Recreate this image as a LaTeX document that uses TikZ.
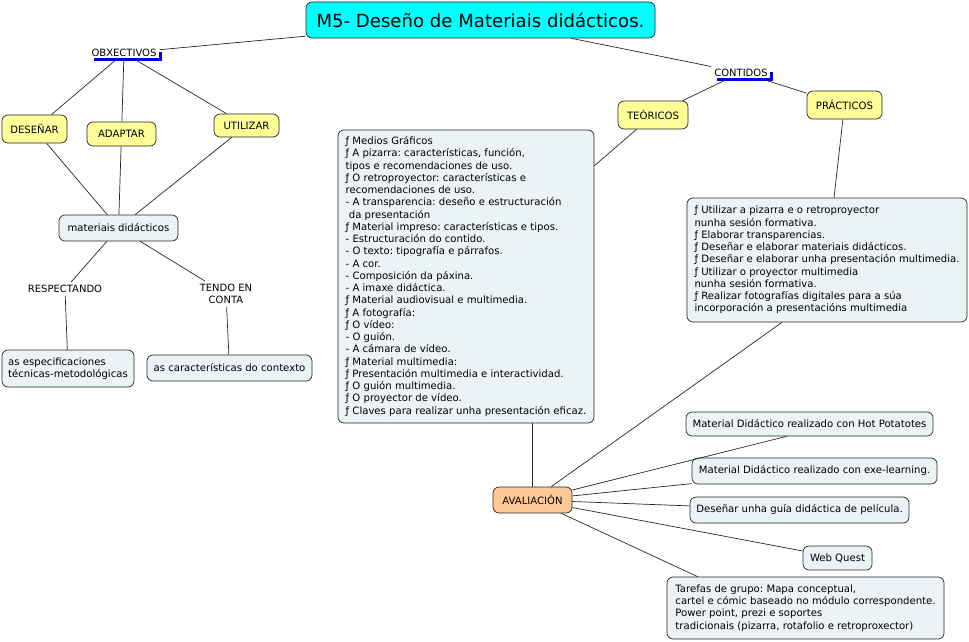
\documentclass[tikz,border=0pt]{standalone}
\usepackage{fontspec}
\setmainfont{DejaVu Sans}
\usetikzlibrary{calc}
\definecolor{ylw}{RGB}{255,255,153}
\definecolor{pale}{RGB}{235,243,245}
\definecolor{org}{RGB}{255,200,150}
\definecolor{cyn}{RGB}{0,255,255}
\definecolor{barblue}{RGB}{0,0,230}
\frenchspacing
\begin{document}
\frenchspacing
\begin{tikzpicture}[x=1pt,y=-1pt,
  box/.style={draw=black!85, rounded corners=6pt, line width=0.7pt, inner sep=0pt, font=\fontsize{10.1}{12.25}\selectfont},
  ybox/.style={box, fill=ylw},
  pbox/.style={box, fill=pale},
  lbl/.style={inner sep=3pt, font=\fontsize{10}{12}\selectfont, align=center},
  conn/.style={draw=black!85, line width=0.7pt},
  bar/.style={draw=barblue, line width=3.3pt, line join=miter}]
\useasboundingbox (0,0) rectangle (969,642);

% nodes
\node[box, fill=cyn, minimum width=349, minimum height=36, font=\fontsize{18.1}{20}\selectfont] (title) at (480.5,20) {M5- Deseño de Materiais didácticos.};

\node[lbl] (obx) at (124,53) {OBXECTIVOS};
\node[lbl] (cont) at (741,72.5) {CONTIDOS};

\node[ybox, minimum width=65, minimum height=28] (desenar) at (34.5,129) {DESEÑAR};
\node[ybox, minimum width=69, minimum height=24] (adaptar) at (121.5,134) {ADAPTAR};
\node[ybox, minimum width=65, minimum height=23] (utilizar) at (246.5,125.5) {UTILIZAR};

\node[pbox, minimum width=119, minimum height=26] (mat) at (118.5,228) {materiais didácticos};
\node[lbl] (resp) at (65,289) {RESPECTANDO};
\node[lbl] (tendo) at (226,294) {TENDO EN\\CONTA};
\node[pbox, minimum width=132, minimum height=37, align=left] (espec) at (68,368.5) {as especificaciones\\técnicas-metodológicas};
\node[pbox, minimum width=165, minimum height=26] (carac) at (229.5,368) {as características do contexto};

\node[ybox, minimum width=70, minimum height=28] (teor) at (653,115) {TEÓRICOS};
\node[ybox, minimum width=75, minimum height=28] (prac) at (844.5,105) {PRÁCTICOS};

\node[pbox, minimum width=256, minimum height=293, align=left] (big) at (466,276.5) {%
ƒ Medios Gráficos\\
ƒ A pizarra: características, función,\\
tipos e recomendaciones de uso.\\
ƒ O retroproyector: características e\\
recomendaciones de uso.\\
- A transparencia: deseño e estructuración\\
\ da presentación\\
ƒ Material impreso: características e tipos.\\
- Estructuración do contido.\\
- O texto: tipografía e párrafos.\\
- A cor.\\
- Composición da páxina.\\
- A imaxe didáctica.\\
ƒ Material audiovisual e multimedia.\\
ƒ A fotografía:\\
ƒ O vídeo:\\
- O guión.\\
- A cámara de vídeo.\\
ƒ Material multimedia:\\
ƒ Presentación multimedia e interactividad.\\
ƒ O guión multimedia.\\
ƒ O proyector de vídeo.\\
ƒ Claves para realizar unha presentación eficaz.};

\node[pbox, minimum width=280, minimum height=124, align=left] (pracbox) at (827,260) {%
ƒ Utilizar a pizarra e o retroproyector\\
nunha sesión formativa.\\
ƒ Elaborar transparencias.\\
ƒ Deseñar e elaborar materiais didácticos.\\
ƒ Deseñar e elaborar unha presentación multimedia.\\
ƒ Utilizar o proyector multimedia\\
nunha sesión formativa.\\
ƒ Realizar fotografías digitales para a súa\\
incorporación a presentacións multimedia};

\node[box, fill=org, minimum width=79, minimum height=26] (aval) at (532.5,500) {AVALIACIÓN};

\node[pbox, minimum width=247, minimum height=24] (hot) at (809.5,424) {Material Didáctico realizado con Hot Potatotes};
\node[pbox, minimum width=245, minimum height=26] (exe) at (814.5,471) {Material Didáctico realizado con exe-learning.};
\node[pbox, minimum width=219, minimum height=26] (guia) at (799.5,510) {Deseñar unha guía didáctica de película.};
\node[pbox, minimum width=69, minimum height=24] (web) at (837.5,558) {Web Quest};
\node[pbox, minimum width=277, minimum height=62, align=left] (taref) at (805.5,608) {%
Tarefas de grupo: Mapa conceptual,\\
cartel e cómic baseado no módulo correspondente.\\
Power point, prezi e soportes\\
tradicionais (pizarra, rotafolio e retroproxector)};

% blue bars
\draw[bar] (94,59.3) -- (160.5,59.3) -- (160.5,52);
\draw[bar] (717,79.8) -- (771.5,79.8) -- (771.5,72);

% connectors
\draw[conn] (title) -- (obx);
\draw[conn] (title) -- (cont);
\draw[conn] (obx) -- (desenar);
\draw[conn] (obx) -- (adaptar);
\draw[conn] (obx) -- (utilizar);
\draw[conn] (desenar) -- (mat);
\draw[conn] (adaptar) -- (mat);
\draw[conn] (utilizar) -- (mat);
\draw[conn] (mat) -- (resp);
\draw[conn] (mat) -- (tendo);
\draw[conn] (resp) -- (espec);
\draw[conn] (tendo) -- (carac);
\draw[conn] (cont) -- (teor);
\draw[conn] (cont) -- (prac);
\draw[conn] (teor) -- (big);
\draw[conn] (prac) -- (pracbox);
\draw[conn] (aval |- big.south) -- (aval);
\draw[conn] ($(pracbox.south)+(-45,0)$) -- (aval);
\draw[conn] (aval) -- ($(hot.south)+(-23,0)$);
\draw[conn] (aval) -- (exe);
\draw[conn] (aval) -- (guia);
\draw[conn] (aval) -- ($(web.west)+(0,-7)$);
\draw[conn] (aval) -- ($(taref.north west)+(31,0)$);
\end{tikzpicture}
\end{document}
